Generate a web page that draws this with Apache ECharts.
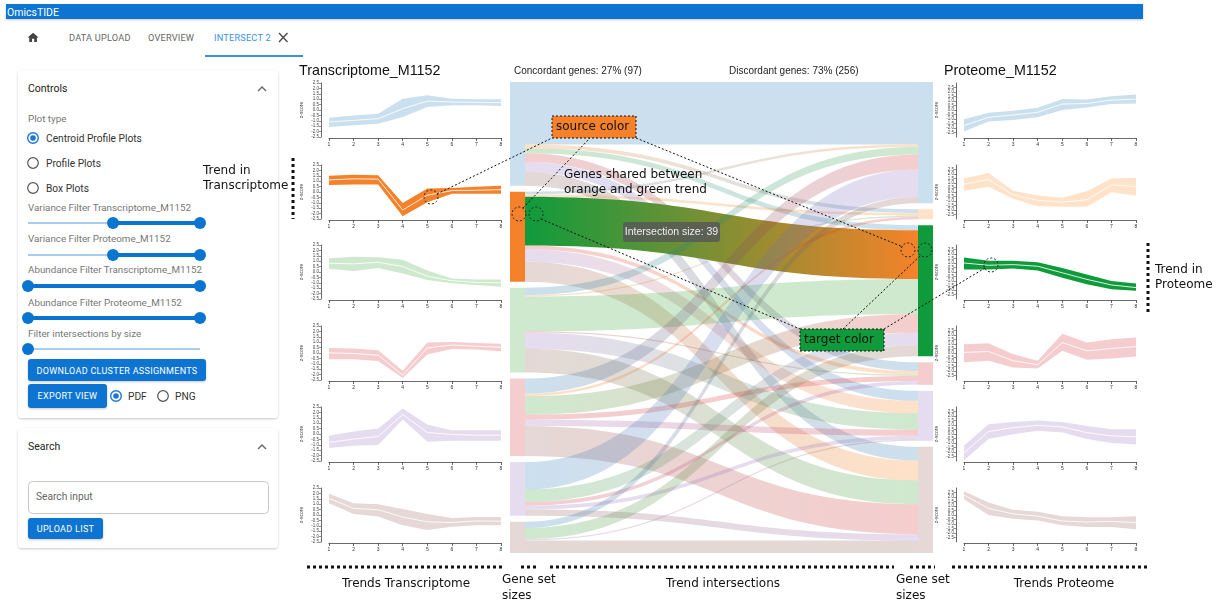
<!DOCTYPE html>
<html>
<head>
<meta charset="utf-8">
<title>OmicsTIDE – Intersect 2</title>
<script src="https://cdn.jsdelivr.net/npm/echarts@6/dist/echarts.min.js"></script>
<style>
  html, body { margin: 0; padding: 0; width: 1219px; height: 600px; overflow: hidden; background: #fff; }
  #ui { position: absolute; left: 0; top: 0; z-index: 1; font-family: Roboto, "Liberation Sans", Arial, sans-serif; }
  #chart { position: absolute; left: 0; top: 0; width: 1219px; height: 600px; z-index: 2; pointer-events: none; }
</style>
</head>
<body>
<!-- application shell: header, tabs and control panels -->
<svg id="ui" width="1219" height="600" xmlns="http://www.w3.org/2000/svg">
  <defs>
    <filter id="sh" x="-5%" y="-10%" width="110%" height="125%">
      <feDropShadow dx="0" dy="1" stdDeviation="1.2" flood-color="#000" flood-opacity="0.22"/>
    </filter>
  </defs>
  <rect x="6" y="4" width="1137" height="15" fill="#0a74d1" filter="url(#sh)"/>
  <text x="7" y="15.5" fill="#fff" font-size="10.5">OmicsTIDE</text>

  <g transform="translate(26.5,31) scale(0.55)"><path d="M10 20v-6h4v6h5v-8h3L12 3 2 12h3v8z" fill="#444"/></g>
  <text x="69" y="41" font-size="9.2" fill="#666" letter-spacing="0.2">DATA UPLOAD</text>
  <text x="148" y="41" font-size="9.2" fill="#666" letter-spacing="0.2">OVERVIEW</text>
  <text x="214" y="41" font-size="9.2" fill="#3a93e0" letter-spacing="0.2">INTERSECT 2</text>
  <path d="M279 33 L287.5 42 M287.5 33 L279 42" stroke="#444" stroke-width="1.3"/>
  <rect x="205" y="55" width="98" height="2" fill="#3a93e0"/>

  <rect x="18" y="70" width="260" height="348" rx="4" fill="#fff" filter="url(#sh)"/>
  <text x="28" y="92" font-size="10.5" fill="#222">Controls</text>
  <path d="M258 91 L262 87 L266 91" stroke="#666" stroke-width="1.4" fill="none"/>
  <text x="28" y="121.5" font-size="9.8" fill="#777">Plot type</text>
  <circle cx="33" cy="138" r="5.3" stroke="#1976d2" stroke-width="1.4" fill="none"/>
  <circle cx="33" cy="138" r="2.8" fill="#1976d2"/>
  <text x="46" y="141.5" font-size="10.2" fill="#333">Centroid Profile Plots</text>
  <circle cx="33" cy="163" r="5.3" stroke="#555" stroke-width="1.2" fill="none"/>
  <text x="46" y="166.5" font-size="10.2" fill="#333">Profile Plots</text>
  <circle cx="33" cy="188" r="5.3" stroke="#555" stroke-width="1.2" fill="none"/>
  <text x="46" y="191.5" font-size="10.2" fill="#333">Box Plots</text>

  <text x="28" y="210.5" font-size="9.8" fill="#777">Variance Filter Transcriptome_M1152</text>
  <line x1="28" y1="223" x2="113" y2="223" stroke="#a8cdf0" stroke-width="2"/>
  <line x1="113" y1="223" x2="200" y2="223" stroke="#0a74d1" stroke-width="4"/>
  <circle cx="113" cy="223" r="6" fill="#0a74d1"/><circle cx="200" cy="223" r="6" fill="#0a74d1"/>

  <text x="28" y="241.5" font-size="9.8" fill="#777">Variance Filter Proteome_M1152</text>
  <line x1="28" y1="255" x2="113" y2="255" stroke="#a8cdf0" stroke-width="2"/>
  <line x1="113" y1="255" x2="200" y2="255" stroke="#0a74d1" stroke-width="4"/>
  <circle cx="113" cy="255" r="6" fill="#0a74d1"/><circle cx="200" cy="255" r="6" fill="#0a74d1"/>

  <text x="28" y="272.5" font-size="9.8" fill="#777">Abundance Filter Transcriptome_M1152</text>
  <line x1="28" y1="286" x2="200" y2="286" stroke="#0a74d1" stroke-width="4"/>
  <circle cx="28" cy="286" r="6" fill="#0a74d1"/><circle cx="200" cy="286" r="6" fill="#0a74d1"/>

  <text x="28" y="305.5" font-size="9.8" fill="#777">Abundance Filter Proteome_M1152</text>
  <line x1="28" y1="318" x2="200" y2="318" stroke="#0a74d1" stroke-width="4"/>
  <circle cx="28" cy="318" r="6" fill="#0a74d1"/><circle cx="200" cy="318" r="6" fill="#0a74d1"/>

  <text x="28" y="336.5" font-size="9.8" fill="#777">Filter intersections by size</text>
  <line x1="28" y1="349" x2="200" y2="349" stroke="#a8cdf0" stroke-width="2"/>
  <circle cx="28" cy="349" r="6" fill="#0a74d1"/>

  <rect x="28" y="359" width="178" height="22" rx="3" fill="#0a74d1" filter="url(#sh)"/>
  <text x="117" y="373.5" font-size="9" fill="#fff" text-anchor="middle" letter-spacing="0.3">DOWNLOAD CLUSTER ASSIGNMENTS</text>
  <rect x="28" y="384" width="79" height="24" rx="3" fill="#0a74d1" filter="url(#sh)"/>
  <text x="67.5" y="399" font-size="9" fill="#fff" text-anchor="middle" letter-spacing="0.3">EXPORT VIEW</text>
  <circle cx="116" cy="396" r="5.3" stroke="#1976d2" stroke-width="1.4" fill="none"/>
  <circle cx="116" cy="396" r="2.8" fill="#1976d2"/>
  <text x="128" y="399.5" font-size="10.2" fill="#333">PDF</text>
  <circle cx="163" cy="396" r="5.3" stroke="#555" stroke-width="1.2" fill="none"/>
  <text x="175" y="399.5" font-size="10.2" fill="#333">PNG</text>

  <rect x="18" y="428" width="260" height="120" rx="4" fill="#fff" filter="url(#sh)"/>
  <text x="28" y="450" font-size="10.5" fill="#222">Search</text>
  <path d="M258 449 L262 445 L266 449" stroke="#666" stroke-width="1.4" fill="none"/>
  <rect x="28.5" y="481.5" width="240" height="32" rx="4" fill="#fff" stroke="#c8c8c8"/>
  <text x="36" y="500" font-size="10.2" fill="#666">Search input</text>
  <rect x="28" y="518" width="75" height="21" rx="3" fill="#0a74d1" filter="url(#sh)"/>
  <text x="65.5" y="532" font-size="9" fill="#fff" text-anchor="middle" letter-spacing="0.3">UPLOAD LIST</text>
</svg>

<div id="chart"></div>

<script>
// time points shown on every profile plot
const timePoints = ['1', '2', '3', '4', '5', '6', '7', '8'];

// cluster colours (shared by profile plots and sankey nodes)
const clusterColors = ['#1f77b4', '#ff7f0e', '#2ca02c', '#d62728', '#9467bd', '#8c564b'];
const highlightSource = '#f5822a';
const highlightTarget = '#0f9b3c';

// Transcriptome_M1152 trend centroids and band limits (z-score)
const trCentroid = [
  [-1.11, -0.96, -0.80, 0.12, 0.83, 0.74, 0.71, 0.68],
  [1.12, 1.22, 1.19, -1.67, -0.30, 0.13, 0.16, 0.22],
  [0.81, 0.75, 0.90, 0.51, -0.39, -0.81, -0.96, -0.99],
  [0.02, -0.05, -0.20, -2.05, 0.47, 0.74, 0.62, 0.53],
  [-0.77, -0.47, -0.23, 1.80, 0.14, -0.05, -0.11, -0.11],
  [1.54, 0.61, 0.49, -0.19, -0.64, -0.70, -0.55, -0.58]
];
const trLower = [
  [-1.57, -1.42, -1.27, -0.65, 0.28, 0.43, 0.43, 0.37],
  [0.64, 0.70, 0.70, -2.24, -0.96, -0.16, -0.16, -0.16],
  [0.30, 0.09, 0.36, -0.15, -0.75, -1.05, -1.20, -1.36],
  [-0.59, -0.59, -0.74, -2.32, -0.14, 0.38, 0.32, 0.17],
  [-1.29, -1.08, -1.02, 1.35, -0.71, -0.62, -0.62, -0.62],
  [1.09, 0.10, -0.13, -0.94, -1.39, -1.09, -0.94, -0.94]
];
const trUpper = [
  [-0.71, -0.50, -0.34, 1.05, 1.36, 1.05, 0.99, 0.99],
  [1.51, 1.60, 1.54, -1.03, 0.32, 0.38, 0.48, 0.58],
  [1.27, 1.42, 1.36, 1.14, 0.15, -0.60, -0.69, -0.69],
  [0.47, 0.41, 0.26, -1.65, 0.98, 1.02, 0.92, 0.86],
  [-0.17, 0.23, 0.50, 2.35, 0.89, 0.35, 0.35, 0.35],
  [1.96, 1.09, 1.00, 0.55, 0.10, -0.28, -0.19, -0.19]
];

// Proteome_M1152 trend centroids and band limits (z-score)
const prCentroid = [
  [-1.73, -0.81, -0.55, -0.26, 0.66, 0.73, 1.10, 1.20],
  [0.86, 1.39, -0.32, -0.93, -1.11, -0.86, 0.79, 0.61],
  [1.00, 0.75, 0.82, 0.64, -0.09, -0.82, -1.44, -1.73],
  [0.06, 0.17, -0.86, -1.30, 1.16, 0.24, 0.50, 0.72],
  [-2.09, 0.27, 0.71, 0.96, 0.78, 0.16, -0.20, -0.31],
  [2.21, 0.73, 0.12, -0.13, -0.67, -0.78, -0.71, -0.85]
];
const prLower = [
  [-2.38, -1.29, -1.10, -0.81, 0.00, 0.29, 0.66, 0.73],
  [0.14, 0.57, -0.75, -1.57, -1.64, -1.64, -0.04, -0.39],
  [0.27, 0.27, 0.38, 0.16, -0.64, -1.36, -1.91, -2.09],
  [-1.04, -0.86, -1.60, -1.71, 0.24, -0.75, -0.60, -0.38],
  [-2.93, -0.56, -0.02, 0.35, 0.16, -0.56, -1.00, -1.18],
  [1.74, 0.01, -0.42, -0.60, -1.14, -1.32, -1.32, -1.57]
];
const prUpper = [
  [-1.03, -0.30, -0.08, 0.25, 1.21, 1.17, 1.53, 1.72],
  [1.50, 2.11, 0.14, -0.39, -0.64, 0.07, 1.50, 1.57],
  [1.62, 1.25, 1.25, 1.07, 0.45, -0.27, -1.00, -1.29],
  [0.98, 1.09, -0.13, -0.86, 2.15, 1.16, 1.53, 1.71],
  [-1.29, 1.07, 1.33, 1.51, 1.33, 0.89, 0.53, 0.53],
  [2.64, 1.38, 0.59, 0.37, -0.13, -0.24, -0.24, -0.13]
];

// genes shared between transcriptome trend (row) and proteome trend (column)
const intersectionSizes = [
  [50, 3, 4, 7, 8, 11],
  [2, 2, 39, 3, 10, 16],
  [6, 1, 28, 1, 13, 19],
  [12, 2, 15, 4, 5, 24],
  [22, 0, 10, 3, 3, 5],
  [5, 0, 9, 0, 1, 10]
];
const selectedSource = 1;   // orange transcriptome trend
const selectedTarget = 2;   // green proteome trend

function parseHex(hex) {
  return [parseInt(hex.slice(1, 3), 16), parseInt(hex.slice(3, 5), 16), parseInt(hex.slice(5, 7), 16)];
}
function tint(hex, a) {
  const c = parseHex(hex).map(v => Math.round(255 - a * (255 - v)));
  return 'rgb(' + c.join(',') + ')';
}
function rgba(hex, a) {
  return 'rgba(' + parseHex(hex).join(',') + ',' + a + ')';
}

const PASTEL = 0.23;
const plotTops = [83, 165, 245, 326, 407, 488];
const plotHeight = 54;

const grids = [], xAxes = [], yAxes = [], series = [];

function addProfile(left, width, top, lower, upper, centroid, bandColor, yMin, yMax) {
  const idx = grids.length;
  grids.push({ left: left, top: top, width: width, height: plotHeight });
  xAxes.push({
    type: 'category', gridIndex: idx, data: timePoints, boundaryGap: false, offset: 1,
    axisLine: { onZero: false, lineStyle: { color: '#444', width: 0.8 } },
    axisTick: { length: 3, lineStyle: { color: '#444', width: 0.8 } },
    axisLabel: { fontSize: 5, color: '#333', margin: 4, fontFamily: 'Liberation Sans' },
    splitLine: { show: false }
  });
  yAxes.push({
    type: 'value', gridIndex: idx, min: yMin, max: yMax, interval: 0.5, offset: 8,
    axisLine: { show: true, onZero: false, lineStyle: { color: '#444', width: 0.8 } },
    axisTick: { show: true, length: 2, lineStyle: { color: '#444', width: 0.6 } },
    axisLabel: { fontSize: 4.5, color: '#444', margin: 2, fontFamily: 'Liberation Sans',
                 formatter: v => v.toFixed(1) },
    splitLine: { show: false },
    name: 'z-score', nameLocation: 'middle', nameGap: 17, nameRotate: 90,
    nameTextStyle: { fontSize: 5, color: '#444', fontFamily: 'Liberation Sans' }
  });
  const common = { type: 'line', xAxisIndex: idx, yAxisIndex: idx, symbol: 'none', silent: true };
  series.push(Object.assign({}, common, {
    data: lower, stack: 'band' + idx, stackStrategy: 'all', lineStyle: { opacity: 0 }
  }));
  series.push(Object.assign({}, common, {
    data: upper.map((u, k) => +(u - lower[k]).toFixed(3)), stack: 'band' + idx, stackStrategy: 'all',
    lineStyle: { opacity: 0 }, areaStyle: { color: bandColor, opacity: 1 }
  }));
  series.push(Object.assign({}, common, {
    data: centroid, lineStyle: { color: '#ffffff', width: 1, opacity: 0.85 }
  }));
}

for (let i = 0; i < 6; i++) {
  const c = i === selectedSource ? highlightSource : tint(clusterColors[i], PASTEL);
  addProfile(329, 172, plotTops[i], trLower[i], trUpper[i], trCentroid[i], c, -2.5, 2.5);
}
for (let i = 0; i < 6; i++) {
  const c = i === selectedTarget ? highlightTarget : tint(clusterColors[i], PASTEL);
  addProfile(964, 172, plotTops[i], prLower[i], prUpper[i], prCentroid[i], c, -3, 3);
}

// sankey of trend intersections
const nodes = [];
for (let i = 0; i < 6; i++) {
  nodes.push({ name: 'Transcriptome_M1152 trend ' + (i + 1),
    itemStyle: { color: i === selectedSource ? highlightSource : tint(clusterColors[i], PASTEL) } });
}
for (let j = 0; j < 6; j++) {
  nodes.push({ name: 'Proteome_M1152 trend ' + (j + 1),
    itemStyle: { color: j === selectedTarget ? highlightTarget : tint(clusterColors[j], PASTEL) } });
}
const links = [];
intersectionSizes.forEach((row, i) => {
  row.forEach((v, j) => {
    if (!v) return;
    const hl = i === selectedSource && j === selectedTarget;
    const left = hl ? highlightTarget : rgba(clusterColors[j], PASTEL);
    const right = hl ? highlightSource : rgba(clusterColors[i], PASTEL);
    links.push({
      source: 'Transcriptome_M1152 trend ' + (i + 1),
      target: 'Proteome_M1152 trend ' + (j + 1),
      value: v,
      lineStyle: {
        color: new echarts.graphic.LinearGradient(0, 0, 1, 0, [
          { offset: 0, color: left }, { offset: 1, color: right }
        ]),
        opacity: 1
      }
    });
  });
});

series.push({
  type: 'sankey', left: 510, top: 82, width: 423, height: 471,
  nodeWidth: 15, nodeGap: 6, layoutIterations: 0, draggable: false, silent: true,
  label: { show: false }, emphasis: { disabled: true },
  itemStyle: { borderWidth: 0 }, lineStyle: { curveness: 0.5 },
  data: nodes, links: links, z: 1
});

const totalGenes = intersectionSizes.flat().reduce((a, b) => a + b, 0);
const concordant = intersectionSizes.reduce((a, row, i) => a + row[i], 0);
const discordant = totalGenes - concordant;
const pct = v => Math.round(100 * v / totalGenes) + '%';
const selectedSize = intersectionSizes[selectedSource][selectedTarget];

// annotation helpers
const annFont = 'DejaVu Sans';
function dotted(x1, y1, x2, y2) {
  return { type: 'line', z: 100, silent: true, shape: { x1, y1, x2, y2 },
           style: { stroke: '#111', lineWidth: 1, lineDash: [2, 2] } };
}
function heavyDots(x1, y1, x2, y2) {
  return { type: 'line', z: 100, silent: true, shape: { x1, y1, x2, y2 },
           style: { stroke: '#111', lineWidth: 3, lineDash: [3, 3] } };
}
function ring(cx, cy) {
  return { type: 'circle', z: 101, silent: true, shape: { cx, cy, r: 7 },
           style: { fill: 'none', stroke: '#222', lineWidth: 1, lineDash: [2, 2] } };
}
function label(x, y, text, opts) {
  return { type: 'text', z: 102, silent: true, x, y,
           style: Object.assign({ text, fill: '#111', font: '12px "' + annFont + '"' }, opts || {}) };
}
function tagBox(x, y, w, h, fill, text) {
  return { type: 'group', z: 102, silent: true, children: [
    { type: 'rect', shape: { x, y, width: w, height: h }, z: 102,
      style: { fill, stroke: '#111', lineWidth: 1, lineDash: [2, 2] } },
    { type: 'text', x: x + 4, y: y + h / 2, z: 103,
      style: { text, fill: '#111', font: '12px "' + annFont + '"', verticalAlign: 'middle' } }
  ] };
}

const graphics = [
  label(299, 64, 'Transcriptome_M1152', { font: '14.3px "Liberation Sans"', fill: '#111' }),
  label(944, 64, 'Proteome_M1152', { font: '14.3px "Liberation Sans"', fill: '#111' }),
  label(514, 66, 'Concordant genes: ' + pct(concordant) + ' (' + concordant + ')', { font: '10px "Liberation Sans"', fill: '#222' }),
  label(729, 66, 'Discordant genes: ' + pct(discordant) + ' (' + discordant + ')', { font: '10px "Liberation Sans"', fill: '#222' }),

  { type: 'rect', z: 90, silent: true, shape: { x: 623, y: 222, width: 97, height: 20, r: 3 },
    style: { fill: 'rgba(88,88,88,0.85)' } },
  label(671.5, 232, 'Intersection size: ' + selectedSize,
        { font: '10.5px "Liberation Sans"', fill: '#eee', align: 'center', verticalAlign: 'middle' }),

  // connectors between colour tags and the highlighted marks
  dotted(437, 194, 552, 138),
  dotted(523, 208, 590, 138),
  dotted(636, 138, 903, 247),
  dotted(541, 219, 800, 329),
  dotted(843, 329, 920, 256),
  dotted(884, 329, 985, 268),
  ring(431, 197), ring(519, 214), ring(536, 214), ring(908, 250), ring(925, 250), ring(991, 265),

  tagBox(552, 116, 84, 22, highlightSource, 'source color'),
  tagBox(800, 329, 84, 22, highlightTarget, 'target color'),

  label(564, 167, 'Genes shared between\norange and green trend', { lineHeight: 15.5 }),
  label(203, 163, 'Trend in\nTranscriptome', { lineHeight: 15.5 }),
  heavyDots(293, 158, 293, 219),
  label(1155, 262, 'Trend in\nProteome', { lineHeight: 15.5 }),
  heavyDots(1148, 243, 1148, 313),

  heavyDots(307, 567, 505, 567),
  heavyDots(521, 567, 539, 567),
  heavyDots(550, 567, 894, 567),
  heavyDots(910, 567, 935, 567),
  heavyDots(952, 567, 1150, 567),
  label(406, 578, 'Trends Transcriptome', { align: 'center' }),
  label(502, 572, 'Gene set\nsizes', { lineHeight: 16 }),
  label(723, 578, 'Trend intersections', { align: 'center' }),
  label(896, 572, 'Gene set\nsizes', { lineHeight: 16 }),
  label(1064, 578, 'Trends Proteome', { align: 'center' })
];

const chart = echarts.init(document.getElementById('chart'), null, { renderer: 'canvas' });
chart.setOption({
  animation: false,
  backgroundColor: 'transparent',
  grid: grids,
  xAxis: xAxes,
  yAxis: yAxes,
  series: series,
  graphic: graphics
});
</script>
</body>
</html>
